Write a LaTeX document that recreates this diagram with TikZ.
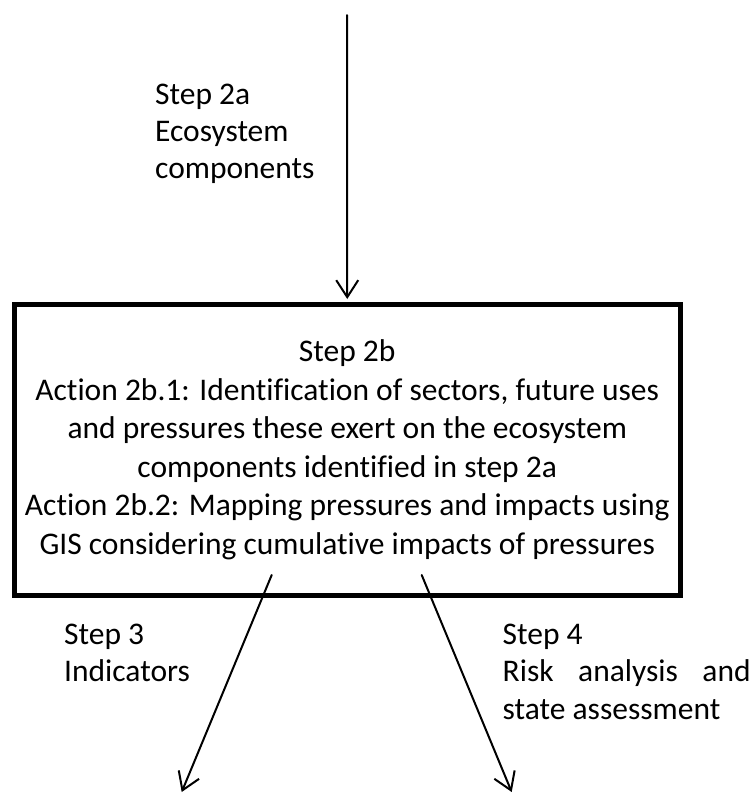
\documentclass[tikz,border=0pt]{standalone}
\usepackage{fontspec}
\setmainfont[Ligatures=NoCommon]{Carlito}
\usetikzlibrary{arrows.meta}
\begin{document}
\begin{tikzpicture}[x=1pt,y=-1pt,
  txt/.style={inner sep=0pt, font=\fontsize{31.5}{38.5}\selectfont},
  lbl/.style={txt, align=left, anchor=north west},
  stagebox/.style={txt, draw, line width=5pt, align=center,
    minimum width=665.5pt, minimum height=291pt},
  flow/.style={line width=2pt, line cap=round,
    -{Straight Barb[length=17pt,width=22pt,line width=2pt]}}]
\useasboundingbox (0,0) rectangle (754,796);

% central stage
\node[stagebox] (box) at (347.25,450)
  {Step 2b\\
   Action 2b.1: Identification of sectors, future uses\\
   and pressures these exert on the ecosystem\\
   components identified in step 2a\\
   Action 2b.2: Mapping pressures and impacts using\\
   GIS considering cumulative impacts of pressures};

% incoming step
\coordinate (in) at (347,15);
\draw[flow, shorten >=3pt] (in) -- (box.north);
\node[lbl, font=\fontsize{31.5}{37}\selectfont] (s2a) at (155,83.5)
  {Step 2a\\Ecosystem\\components};

% outgoing steps
\coordinate (l0) at (271.7,575);
\coordinate (l1) at (181.7,792);
\coordinate (r0) at (421.7,575);
\coordinate (r1) at (511.7,792);
\draw[flow] (l0) -- (l1);
\draw[flow] (r0) -- (r1);

\node[lbl, font=\fontsize{31.5}{37.5}\selectfont] (s3) at (64,623.5)
  {Step 3\\Indicators};
\node[lbl, font=\fontsize{31.5}{37.5}\selectfont] (s4) at (502.5,623.5)
  {Step 4\\\hbox to 248pt{Risk\hfill analysis\hfill and}\\state assessment};
\end{tikzpicture}
\end{document}
